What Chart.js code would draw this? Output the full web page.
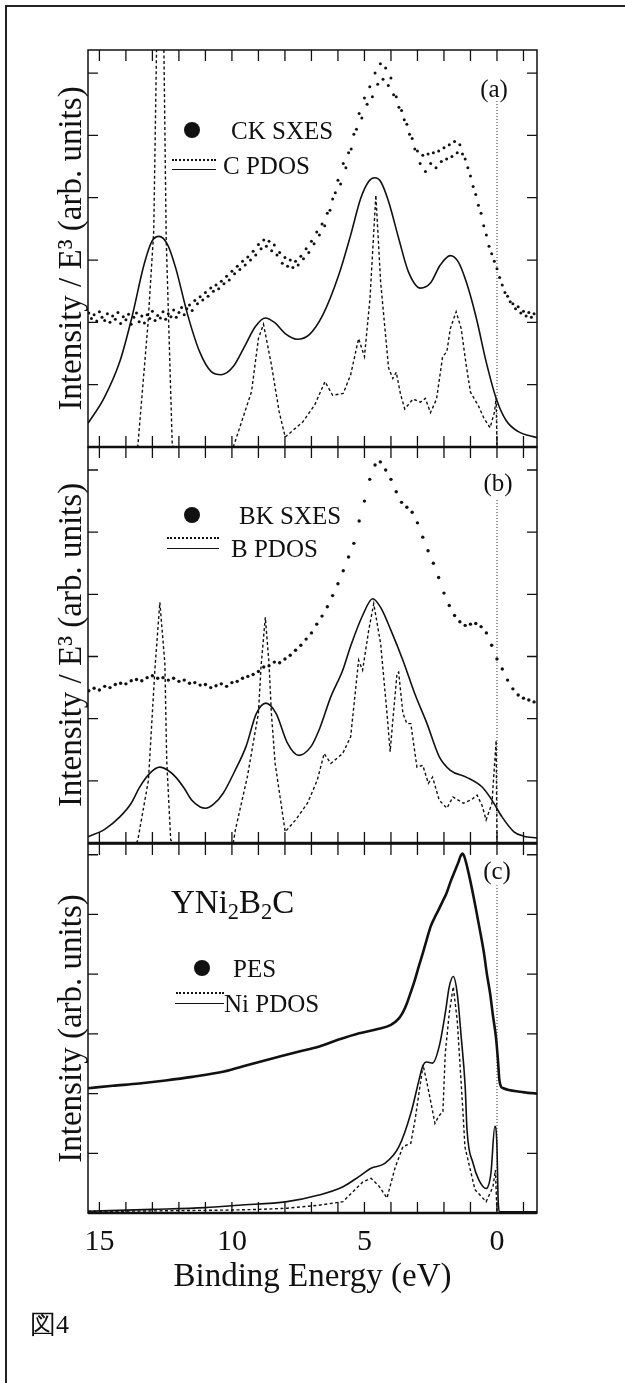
<!DOCTYPE html>
<html>
<head>
<meta charset="utf-8">
<script src="https://cdn.jsdelivr.net/npm/chart.js@4.4.1/dist/chart.umd.min.js"></script>
<style>
  html, body { margin: 0; padding: 0; background: #fff; overflow: hidden; }
  #page { position: relative; width: 625px; height: 1383px; font-family: "Liberation Serif", "Times New Roman", serif; color: #111; }
  #page canvas { position: absolute; left: 0; }
  .frame { position: absolute; left: 5px; top: 5px; width: 660px; height: 1400px; border-top: 2px solid #222; border-left: 2px solid #222; }
  .txt { position: absolute; white-space: nowrap; line-height: 1; transform: translateY(-50%); z-index: 5; }
  .ctr { transform: translate(-50%, -50%); }
  .leg { font-size: 25px; }
  .dot { position: absolute; width: 16px; height: 16px; border-radius: 50%; background: #111; transform: translate(-50%, -50%); z-index: 5; }
  .dline { position: absolute; height: 0; border-top: 2px dotted #111; z-index: 5; }
  .sline { position: absolute; height: 0; border-top: 1.6px solid #111; z-index: 5; }
  sub { font-size: 0.68em; vertical-align: -0.28em; }
</style>
</head>
<body>
<div id="page">
  <div class="frame"></div>
  <canvas id="panelA" width="625" height="460" style="top:0px"></canvas>
  <canvas id="panelB" width="625" height="420" style="top:440px"></canvas>
  <canvas id="panelC" width="625" height="547" style="top:836px"></canvas>

  <!-- panel (a) legend -->
  <div class="txt ctr leg" style="left:494px; top:88px">(a)</div>
  <div class="dot" style="left:192px; top:130px"></div>
  <div class="txt leg" style="left:231px; top:130px">CK SXES</div>
  <div class="dline" style="left:172px; top:159px; width:44px"></div>
  <div class="sline" style="left:172px; top:169px; width:44px"></div>
  <div class="txt leg" style="left:223px; top:165px">C PDOS</div>

  <!-- panel (b) legend -->
  <div class="txt ctr leg" style="left:498px; top:482px">(b)</div>
  <div class="dot" style="left:192px; top:515px"></div>
  <div class="txt leg" style="left:239px; top:515px">BK SXES</div>
  <div class="dline" style="left:167px; top:537px; width:52px"></div>
  <div class="sline" style="left:167px; top:548px; width:52px"></div>
  <div class="txt leg" style="left:231px; top:548px">B PDOS</div>

  <!-- panel (c) legend -->
  <div class="txt ctr leg" style="left:497px; top:870px">(c)</div>
  <div class="txt" style="left:171px; top:905px; font-size:33px">YNi<sub>2</sub>B<sub>2</sub>C</div>
  <div class="dot" style="left:202px; top:968px"></div>
  <div class="txt leg" style="left:233px; top:968px">PES</div>
  <div class="dline" style="left:176px; top:992px; width:48px"></div>
  <div class="sline" style="left:175px; top:1003px; width:49px"></div>
  <div class="txt leg" style="left:224px; top:1003px">Ni PDOS</div>

  <div class="txt" style="left:30px; top:1325px; font-size:26px">図4</div>
</div>

<script>
// ---- data (binding energy in eV, intensity in arbitrary units) ----

// x axis
const eMin = -1.51;
const eMax = 15.43;
const xTickValues = [-1, 0, 1, 2, 3, 4, 5, 6, 7, 8, 9, 10, 11, 12, 13, 14, 15];
const yTickValues = [1, 2, 3, 4, 5, 6];
const yMaxAB = 6.37;
const yMaxC = 6.18;
const fermiTop = [5.55, 5.54, 5.49];

// (a) CK SXES
const aSxesE = [
  15.4, 15.3, 15.2, 15.1, 15.0, 14.9, 14.8, 14.7, 14.6, 14.5,
  14.4, 14.3, 14.2, 14.1, 14.0, 13.9, 13.8, 13.7, 13.6, 13.5,
  13.4, 13.3, 13.2, 13.1, 13.0, 12.9, 12.8, 12.7, 12.6, 12.5,
  12.4, 12.3, 12.2, 12.1, 12.0, 11.9, 11.8, 11.7, 11.6, 11.5,
  11.4, 11.3, 11.2, 11.1, 11.0, 10.9, 10.8, 10.7, 10.6, 10.5,
  10.4, 10.3, 10.2, 10.1, 10.0, 9.9, 9.8, 9.7, 9.6, 9.5,
  9.4, 9.3, 9.2, 9.1, 9.0, 8.9, 8.8, 8.7, 8.6, 8.5,
  8.4, 8.3, 8.2, 8.1, 8.0, 7.9, 7.8, 7.7, 7.6, 7.5,
  7.4, 7.3, 7.2, 7.1, 7.0, 6.9, 6.8, 6.7, 6.6, 6.5,
  6.4, 6.3, 6.2, 6.1, 6.0, 5.9, 5.8, 5.7, 5.6, 5.5,
  5.4, 5.3, 5.2, 5.1, 5.0, 4.9, 4.8, 4.7, 4.6, 4.5,
  4.4, 4.3, 4.2, 4.1, 4.0, 3.9, 3.8, 3.7, 3.6, 3.5,
  3.4, 3.3, 3.2, 3.1, 3.0, 2.9, 2.8, 2.7, 2.6, 2.5,
  2.4, 2.3, 2.2, 2.1, 2.0, 1.9, 1.8, 1.7, 1.6, 1.5,
  1.4, 1.3, 1.2, 1.1, 1.0, 0.9, 0.8, 0.7, 0.6, 0.5,
  0.4, 0.3, 0.2, 0.1, 0.0, -0.1, -0.2, -0.3, -0.4, -0.5,
  -0.6, -0.7, -0.8, -0.9, -1.0, -1.1, -1.2, -1.3, -1.4
];
const aSxesI = [
  2.15, 2.06, 2.12, 2.02, 2.17, 2.08, 2.03, 2.14, 2.00, 2.10,
  2.05, 2.16, 1.98, 2.09, 2.04, 2.13, 1.97, 2.08, 2.15, 2.01,
  2.10, 1.99, 2.12, 2.06, 2.18, 2.03, 2.11, 2.07, 2.17, 2.05,
  2.14, 2.09, 2.20, 2.08, 2.16, 2.24, 2.12, 2.22, 2.28, 2.19,
  2.35, 2.30, 2.41, 2.36, 2.48, 2.42, 2.55, 2.50, 2.60, 2.54,
  2.66, 2.62, 2.74, 2.68, 2.82, 2.78, 2.90, 2.85, 2.98, 2.92,
  3.05, 3.00, 3.14, 3.08, 3.25, 3.18, 3.32, 3.22, 3.30, 3.15,
  3.24, 3.08, 3.12, 2.95, 3.04, 2.90, 3.00, 2.88, 2.98, 2.92,
  3.06, 3.02, 3.18, 3.12, 3.30, 3.26, 3.45, 3.40, 3.58, 3.55,
  3.75, 3.80, 3.98, 4.08, 4.28, 4.22, 4.55, 4.48, 4.72, 4.78,
  5.02, 5.10, 5.35, 5.28, 5.60, 5.50, 5.78, 5.62, 6.00, 5.82,
  6.15, 5.90, 6.08, 5.80, 5.92, 5.65, 5.62, 5.45, 5.40, 5.25,
  5.18, 5.02, 4.95, 4.78, 4.75, 4.55, 4.68, 4.42, 4.70, 4.55,
  4.72, 4.48, 4.75, 4.58, 4.80, 4.62, 4.85, 4.66, 4.90, 4.72,
  4.85, 4.70, 4.62, 4.48, 4.35, 4.18, 4.05, 3.88, 3.75, 3.55,
  3.40, 3.22, 3.10, 2.98, 2.86, 2.72, 2.60, 2.48, 2.42, 2.33,
  2.30, 2.22, 2.25, 2.15, 2.18, 2.10, 2.16, 2.08, 2.14
];

// (a) C PDOS, broadened (solid)
const aBroadE = [15.43, 14.83, 14.23, 13.78, 13.32, 13.02, 12.75, 12.42, 12.12, 11.67,
  11.22, 10.78, 10.40, 9.95, 9.49, 9.12, 8.74, 8.37, 7.99, 7.54,
  7.09, 6.57, 5.97, 5.52, 5.14, 4.84, 4.61, 4.39, 4.09, 3.71,
  3.34, 2.89, 2.51, 2.14, 1.76, 1.46, 1.16, 0.78, 0.41, 0.03,
  -0.34, -0.79, -1.51];
const aBroadI = [0.38, 0.78, 1.37, 2.07, 2.92, 3.30, 3.38, 3.24, 2.87, 2.12,
  1.53, 1.21, 1.16, 1.29, 1.64, 1.93, 2.07, 1.99, 1.82, 1.73,
  1.80, 2.12, 2.76, 3.40, 3.99, 4.26, 4.32, 4.26, 3.94, 3.35,
  2.81, 2.55, 2.63, 2.92, 3.07, 2.97, 2.65, 2.07, 1.37, 0.78,
  0.43, 0.25, 0.15];

// (a) C PDOS, raw (dotted)
const aSharpE = [13.60, 13.55, 13.17, 12.95, 12.84, 12.70, 12.57, 12.48, 12.25, 12.20,
  11.00, 9.95, 9.87, 9.26, 9.00, 8.81, 8.51, 8.22, 7.99, 7.33,
  6.87, 6.49, 6.20, 5.80, 5.52, 5.22, 5.00, 4.79, 4.57, 4.39,
  4.09, 3.93, 3.80, 3.64, 3.48, 3.17, 2.89, 2.70, 2.51, 2.28,
  2.05, 1.89, 1.76, 1.54, 1.35, 1.16, 1.00, 0.70, 0.48, 0.26,
  0.10, 0.03, 0.00];
const aSharpI = [0, 0.02, 1.96, 3.46, 6.50, 12.0, 6.50, 3.35, 0.02, 0,
  null, 0, 0.10, 0.89, 1.74, 1.97, 1.32, 0.57, 0.16, 0.40,
  0.68, 1.05, 0.83, 0.86, 1.16, 1.74, 1.45, 2.39, 4.04, 2.65,
  1.27, 1.10, 1.20, 0.85, 0.61, 0.77, 0.72, 0.78, 0.55, 0.77,
  1.45, 1.53, 1.90, 2.17, 1.90, 1.31, 0.88, 0.66, 0.45, 0.31,
  0.55, 0.78, 0];

// (b) BK SXES
const bSxesE = [
  15.4, 15.2, 15.0, 14.8, 14.6, 14.4, 14.2, 14.0, 13.8, 13.6,
  13.4, 13.2, 13.0, 12.8, 12.6, 12.4, 12.2, 12.0, 11.8, 11.6,
  11.4, 11.2, 11.0, 10.8, 10.6, 10.4, 10.2, 10.0, 9.8, 9.6,
  9.4, 9.2, 9.0, 8.8, 8.6, 8.4, 8.2, 8.0, 7.8, 7.6,
  7.4, 7.2, 7.0, 6.8, 6.6, 6.4, 6.2, 6.0, 5.8, 5.6,
  5.4, 5.2, 5.0, 4.8, 4.6, 4.4, 4.2, 4.0, 3.8, 3.6,
  3.4, 3.2, 3.0, 2.8, 2.6, 2.4, 2.2, 2.0, 1.8, 1.6,
  1.4, 1.2, 1.0, 0.8, 0.6, 0.4, 0.2, 0.0, -0.2, -0.4,
  -0.6, -0.8, -1.0, -1.2, -1.4
];
const bSxesI = [
  2.45, 2.49, 2.46, 2.52, 2.50, 2.55, 2.57, 2.56, 2.61, 2.63,
  2.61, 2.66, 2.69, 2.65, 2.66, 2.62, 2.65, 2.60, 2.62, 2.57,
  2.58, 2.54, 2.55, 2.50, 2.53, 2.56, 2.52, 2.58, 2.60, 2.65,
  2.68, 2.71, 2.76, 2.83, 2.85, 2.91, 2.90, 2.96, 3.02, 3.10,
  3.18, 3.28, 3.38, 3.52, 3.65, 3.80, 3.98, 4.17, 4.38, 4.60,
  4.82, 5.18, 5.50, 5.85, 6.08, 6.13, 6.00, 5.85, 5.65, 5.48,
  5.40, 5.32, 5.15, 4.92, 4.70, 4.50, 4.27, 4.02, 3.82, 3.66,
  3.56, 3.50, 3.52, 3.53, 3.48, 3.38, 3.18, 2.96, 2.80, 2.62,
  2.48, 2.38, 2.33, 2.30, 2.27
];

// (b) B PDOS, broadened (solid)
const bBroadE = [15.43, 14.80, 14.23, 13.80, 13.48, 13.10, 12.72, 12.42, 12.12, 11.80,
  11.52, 11.20, 10.99, 10.70, 10.33, 9.90, 9.47, 9.08, 8.72, 8.33,
  7.92, 7.48, 7.02, 6.72, 6.27, 5.82, 5.52, 5.07, 4.69, 4.39,
  4.00, 3.55, 3.10, 2.64, 2.18, 1.76, 1.16, 0.56, 0.19, -0.19,
  -0.64, -1.00, -1.51];
const bBroadI = [0.10, 0.22, 0.42, 0.64, 0.90, 1.12, 1.22, 1.17, 1.06, 0.88,
  0.69, 0.58, 0.56, 0.62, 0.80, 1.15, 1.55, 2.08, 2.25, 2.08,
  1.62, 1.41, 1.55, 1.81, 2.35, 2.78, 3.17, 3.66, 3.93, 3.79,
  3.42, 2.94, 2.40, 1.92, 1.39, 1.17, 1.06, 0.90, 0.69, 0.42,
  0.18, 0.11, 0.08];

// (b) B PDOS, raw (dotted)
const bSharpE = [13.60, 13.55, 13.15, 12.90, 12.72, 12.53, 12.46, 12.31, 12.20, 11.00,
  9.95, 9.87, 9.42, 9.00, 8.90, 8.74, 8.60, 8.51, 8.37, 7.99,
  7.60, 7.15, 6.78, 6.52, 6.27, 5.82, 5.52, 5.22, 5.07, 4.84,
  4.65, 4.39, 4.15, 4.03, 3.93, 3.77, 3.71, 3.55, 3.40, 3.25,
  3.02, 2.80, 2.59, 2.43, 2.18, 1.89, 1.66, 1.27, 0.95, 0.75,
  0.56, 0.41, 0.19, 0.03, 0.00];
const bSharpI = [0, 0.05, 1.01, 2.83, 3.87, 2.89, 1.33, 0.05, 0, null,
  0, 0.21, 1.06, 2.09, 2.85, 3.63, 2.88, 2.08, 1.28, 0.18,
  0.37, 0.64, 1.01, 1.44, 1.28, 1.44, 1.71, 2.94, 2.78, 3.42,
  3.85, 3.21, 2.09, 1.47, 1.97, 2.73, 2.75, 2.09, 1.92, 1.92,
  1.22, 1.25, 0.96, 1.06, 0.69, 0.56, 0.74, 0.64, 0.70, 0.77,
  0.60, 0.37, 0.64, 1.65, 0];

// (c) PES
const cPesE = [15.43, 14.50, 13.50, 12.50, 11.50, 10.30, 9.40, 8.20, 7.50, 6.70,
  6.00, 5.20, 4.50, 4.00, 3.70, 3.55, 3.40, 3.25, 3.10, 2.95,
  2.80, 2.65, 2.50, 2.35, 2.20, 2.05, 1.90, 1.75, 1.57, 1.45,
  1.38, 1.30, 1.24, 1.16, 1.00, 0.81, 0.65, 0.49, 0.38, 0.26,
  0.15, 0.04, -0.03, -0.09, -0.15, -0.24, -0.86, -1.51];
const cPesI = [2.09, 2.13, 2.17, 2.22, 2.28, 2.37, 2.48, 2.62, 2.70, 2.79,
  2.90, 3.01, 3.08, 3.15, 3.26, 3.36, 3.51, 3.70, 3.90, 4.13,
  4.35, 4.58, 4.80, 4.95, 5.08, 5.22, 5.36, 5.55, 5.75, 5.88,
  5.97, 6.02, 5.98, 5.86, 5.55, 5.13, 4.75, 4.35, 4.00, 3.68,
  3.30, 2.95, 2.60, 2.23, 2.12, 2.09, 2.03, 2.00];

// (c) Ni PDOS, broadened (solid)
const cBroadE = [15.43, 13.00, 11.00, 9.74, 7.92, 6.72, 5.81, 5.21, 4.75, 4.23,
  3.70, 3.25, 2.94, 2.81, 2.66, 2.43, 2.18, 1.95, 1.80, 1.65,
  1.50, 1.35, 1.20, 1.13, 0.90, 0.68, 0.41, 0.23, 0.08, 0.00,
  -0.04, -0.09, -1.51];
const cBroadI = [0.03, 0.06, 0.09, 0.13, 0.19, 0.30, 0.44, 0.61, 0.75, 0.83,
  1.11, 1.67, 2.23, 2.45, 2.53, 2.51, 2.79, 3.35, 3.79, 3.96,
  3.68, 2.95, 2.12, 1.39, 0.83, 0.55, 0.41, 0.66, 1.45, 1.11,
  0.27, 0.02, 0.02];

// (c) Ni PDOS, raw (dotted)
const cSharpE = [15.43, 14.00, 12.00, 10.00, 9.00, 7.92, 6.72, 5.81, 5.36, 5.06,
  4.75, 4.45, 4.15, 3.85, 3.55, 3.25, 3.09, 2.87, 2.79, 2.65,
  2.51, 2.34, 2.20, 2.04, 1.95, 1.80, 1.65, 1.50, 1.28, 1.21,
  0.83, 0.41, 0.15, 0.06, 0.00];
const cSharpI = [0.03, 0.03, 0.04, 0.05, 0.06, 0.08, 0.13, 0.19, 0.39, 0.52,
  0.58, 0.45, 0.25, 0.75, 1.11, 1.17, 1.56, 2.23, 2.48, 2.20,
  1.89, 1.50, 1.62, 1.70, 2.68, 3.35, 3.79, 3.23, 1.67, 1.11,
  0.39, 0.19, 0.44, 0.72, 0];

const xTickLabels = ["15", "10", "5", "0"];
const xLabelValues = [15, 10, 5, 0];

// ---- drawing ----
const ink = "#111";
const serif = "'Liberation Serif', 'Times New Roman', serif";

function pts(es, is) {
  return es.map((e, i) => ({ x: e, y: is[i] }));
}

function sxesSet(es, is, r) {
  return { data: pts(es, is), showLine: false, pointRadius: r, pointBackgroundColor: ink, pointBorderWidth: 0, order: 3 };
}
function broadSet(es, is) {
  return { data: pts(es, is), showLine: true, borderColor: ink, borderWidth: 1.6, pointRadius: 0,
    cubicInterpolationMode: "monotone", order: 2 };
}
function sharpSet(es, is) {
  return { data: pts(es, is), showLine: true, borderColor: ink, borderWidth: 1.4, borderDash: [3, 2.5],
    pointRadius: 0, tension: 0, spanGaps: false, order: 4 };
}
function fermiSet(top) {
  return { data: [{ x: 0, y: 0 }, { x: 0, y: top }], showLine: true, borderColor: "#333", borderWidth: 1,
    borderDash: [1, 2], pointRadius: 0, order: 5 };
}

const framePlugin = {
  id: "frame",
  afterDatasetsDraw(chart) {
    const { ctx, chartArea: a, scales } = chart;
    ctx.save();
    ctx.strokeStyle = ink;
    ctx.lineWidth = 1.5;
    ctx.strokeRect(a.left, a.top, a.right - a.left, a.bottom - a.top);
    ctx.lineWidth = 2.6;
    ctx.beginPath();
    ctx.moveTo(a.left, a.bottom);
    ctx.lineTo(a.right, a.bottom);
    ctx.stroke();
    ctx.lineWidth = 1.3;
    ctx.beginPath();
    xTickValues.forEach(function (v) {
      const px = scales.x.getPixelForValue(v);
      ctx.moveTo(px, a.bottom);
      ctx.lineTo(px, a.bottom - 11);
      ctx.moveTo(px, a.top);
      ctx.lineTo(px, a.top + 11);
    });
    yTickValues.forEach(function (v) {
      const py = scales.y.getPixelForValue(v);
      ctx.moveTo(a.left, py);
      ctx.lineTo(a.left + 10, py);
      ctx.moveTo(a.right, py);
      ctx.lineTo(a.right - 10, py);
    });
    ctx.stroke();
    ctx.restore();
  }
};

function yAxis(max, title) {
  return {
    type: "linear", min: 0, max: max,
    grid: { display: false, drawTicks: false },
    border: { display: false },
    ticks: { display: false },
    title: { display: true, text: title, color: ink, font: { family: serif, size: 33 }, padding: { top: 53, bottom: 0 } },
    afterFit: function (s) { s.width = 88; }
  };
}

function makePanel(id, datasets, yMax, yTitle, padding, showX) {
  const xAxis = showX ? {
    type: "linear", min: eMin, max: eMax, reverse: true,
    grid: { display: false, drawTicks: false },
    border: { display: false },
    ticks: {
      stepSize: 5, includeBounds: false, color: ink, padding: 11,
      font: { family: serif, size: 30 }, maxRotation: 0,
      callback: function (v) {
        const k = xLabelValues.indexOf(v);
        return k >= 0 ? xTickLabels[k] : "";
      }
    },
    title: { display: true, text: "Binding Energy (eV)", color: ink, font: { family: serif, size: 33 }, padding: { top: 0, bottom: 86 } },
    afterFit: function (s) { s.height = 170; }
  } : { type: "linear", min: eMin, max: eMax, reverse: true, display: false };

  return new Chart(document.getElementById(id), {
    type: "scatter",
    data: { datasets: datasets },
    options: {
      responsive: false,
      animation: false,
      devicePixelRatio: 1,
      layout: { padding: padding },
      plugins: { legend: { display: false }, tooltip: { enabled: false } },
      scales: { x: xAxis, y: yAxis(yMax, yTitle) }
    },
    plugins: [framePlugin]
  });
}

makePanel("panelA", [
  sharpSet(aSharpE, aSharpI),
  broadSet(aBroadE, aBroadI),
  sxesSet(aSxesE, aSxesI, 1.5),
  fermiSet(fermiTop[0])
], yMaxAB, "Intensity / E³ (arb. units)", { top: 50, right: 88, bottom: 13, left: 0 }, false);

makePanel("panelB", [
  sharpSet(bSharpE, bSharpI),
  broadSet(bBroadE, bBroadI),
  sxesSet(bSxesE, bSxesI, 1.7),
  fermiSet(fermiTop[1])
], yMaxAB, "Intensity / E³ (arb. units)", { top: 7, right: 88, bottom: 17, left: 0 }, false);

makePanel("panelC", [
  sharpSet(cSharpE, cSharpI),
  broadSet(cBroadE, cBroadI),
  { data: pts(cPesE, cPesI), showLine: true, borderColor: ink, borderWidth: 2.6, pointRadius: 0,
    cubicInterpolationMode: "monotone", order: 1 },
  fermiSet(fermiTop[2])
], yMaxC, "Intensity (arb. units)", { top: 8, right: 88, bottom: 0, left: 0 }, true);
</script>
</body>
</html>
